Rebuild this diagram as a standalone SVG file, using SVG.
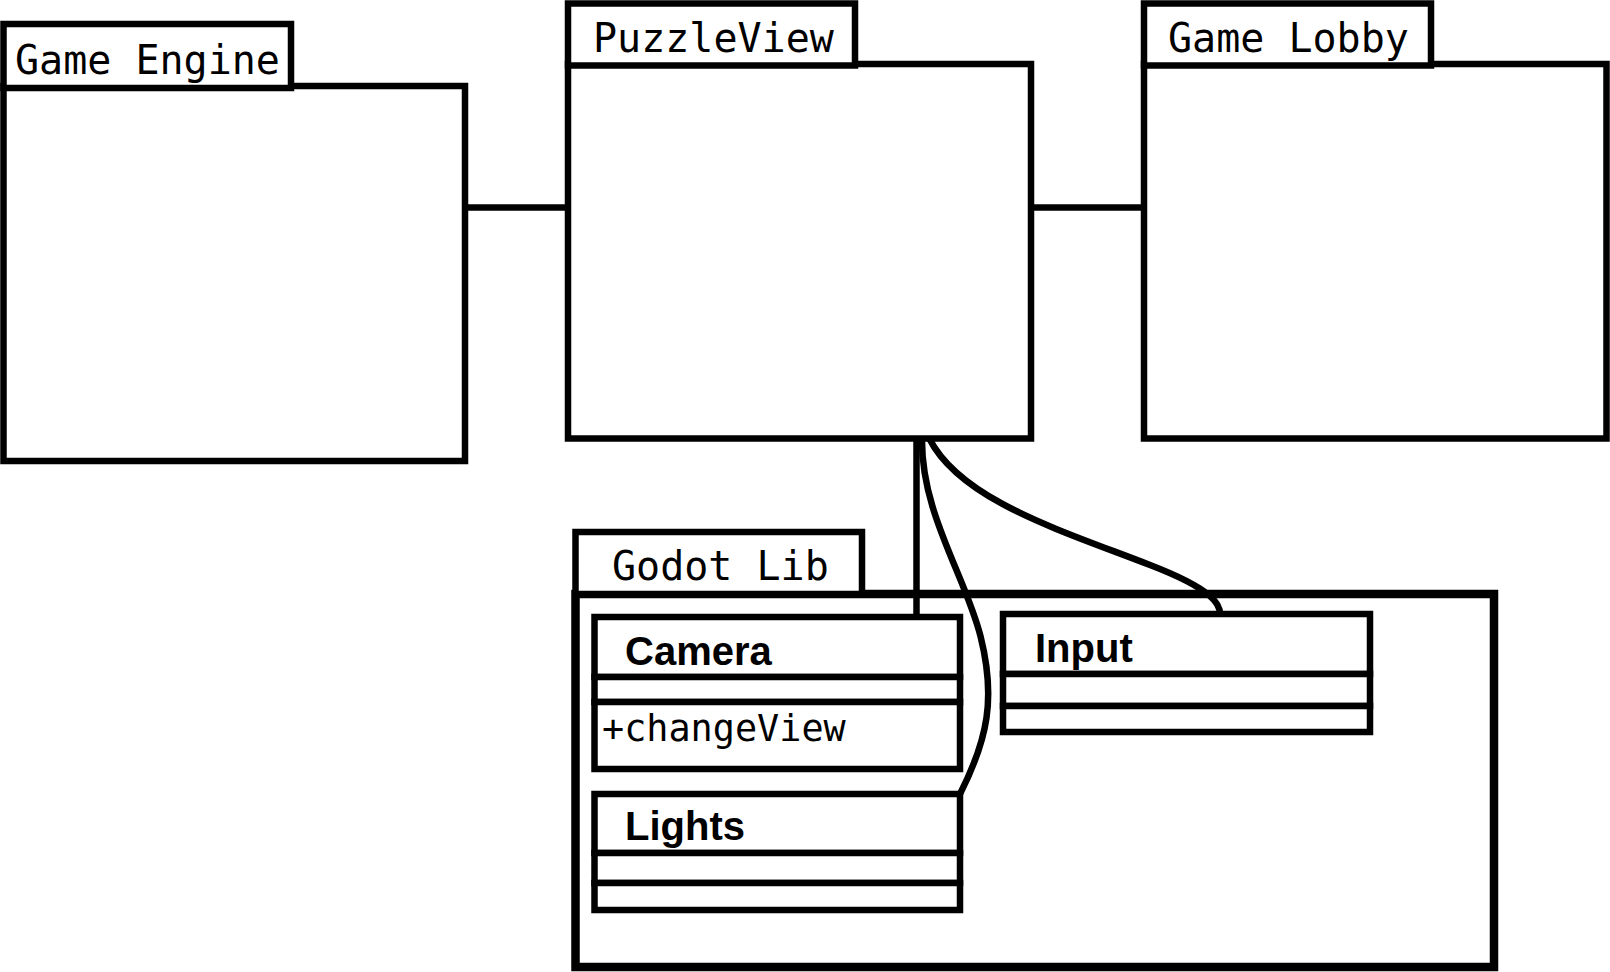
<svg xmlns="http://www.w3.org/2000/svg" width="1610" height="972" viewBox="0 0 1610 972">
<style>
.box{fill:#fff;stroke:#000;stroke-width:6.5}
.big{fill:#fff;stroke:#000;stroke-width:8.5}
.pk{font-family:"DejaVu Sans Mono","Liberation Mono",monospace;font-size:40px;fill:#000}
.cn{font-family:"Liberation Sans",Arial,sans-serif;font-weight:bold;font-size:40px;fill:#000}
.op{font-family:"DejaVu Sans Mono","Liberation Mono",monospace;font-size:36.8px;fill:#000}
.ln{fill:none;stroke:#000;stroke-width:6.5}
</style>
<rect width="1610" height="972" fill="#fff"/>
<g id="connectors">
<line class="ln" x1="465" y1="207.5" x2="568" y2="207.5"/>
<line class="ln" x1="1031" y1="207.5" x2="1144" y2="207.5"/>
</g>
<g id="game-engine">
<rect class="box" x="3.5" y="86" width="461.5" height="375"/>
<rect class="box" x="3.5" y="24" width="287.5" height="64"/>
<text class="pk" x="15" y="74">Game Engine</text>
</g>
<g id="puzzleview">
<rect class="box" x="568" y="64" width="463" height="374.5"/>
<rect class="box" x="568" y="3.5" width="287" height="62"/>
<text class="pk" x="593" y="52">PuzzleView</text>
</g>
<g id="game-lobby">
<rect class="box" x="1144" y="64" width="462.5" height="374.5"/>
<rect class="box" x="1144" y="3.5" width="287" height="62"/>
<text class="pk" x="1168" y="52">Game Lobby</text>
</g>
<g id="godot-lib">
<rect class="big" x="575.5" y="594" width="918.5" height="373"/>
<rect class="box" x="575.5" y="532" width="286.5" height="62"/>
<text class="pk" x="612" y="580">Godot Lib</text>
</g>
<g id="camera">
<rect class="box" x="594.5" y="617" width="365.5" height="60"/>
<rect class="box" x="594.5" y="677" width="365.5" height="25"/>
<rect class="box" x="594.5" y="702" width="365.5" height="67"/>
<text class="cn" x="625" y="665">Camera</text>
<text class="op" x="602" y="741">+changeView</text>
</g>
<g id="lights">
<rect class="box" x="594.5" y="794" width="365.5" height="59"/>
<rect class="box" x="594.5" y="853" width="365.5" height="30"/>
<rect class="box" x="594.5" y="883" width="365.5" height="27"/>
<text class="cn" x="625" y="840">Lights</text>
</g>
<g id="input">
<rect class="box" x="1003" y="614" width="367" height="60"/>
<rect class="box" x="1003" y="674" width="367" height="32"/>
<rect class="box" x="1003" y="706" width="367" height="26"/>
<text class="cn" x="1035" y="662">Input</text>
</g>
<g id="connectors-2">
<line class="ln" x1="916.5" y1="438" x2="916.5" y2="617"/>
<path class="ln" d="M922 438 C921 513 965 575 980.6 636.6 C996 698 987.8 739 960 794"/>
<path class="ln" d="M929 438 C960 500 1060 530 1150 565 C1215 590 1220 605 1220 614"/>
</g>
</svg>
